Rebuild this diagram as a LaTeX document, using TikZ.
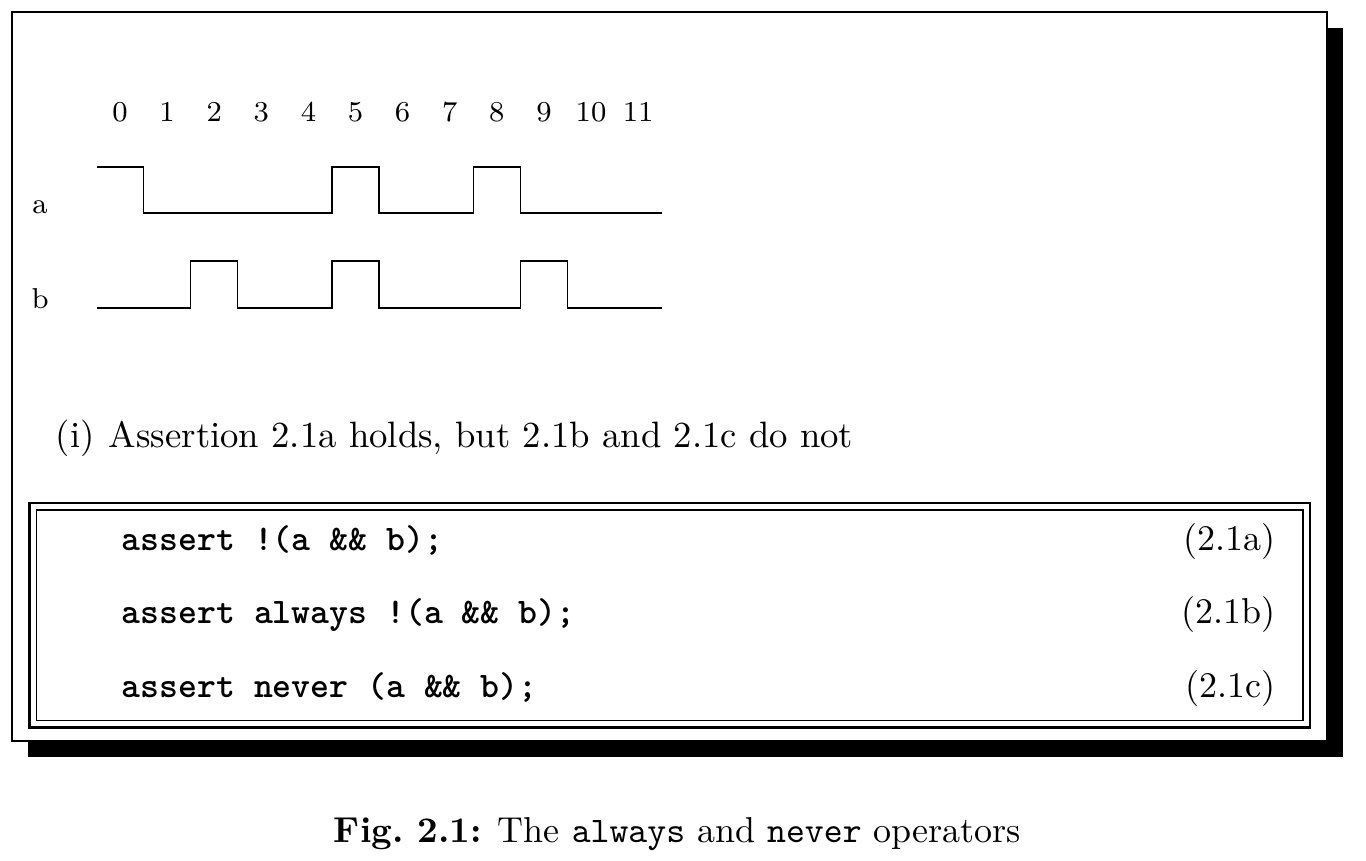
\documentclass[tikz,border=0pt]{standalone}
\begin{document}
\begin{tikzpicture}[x=0.2778pt,y=-0.2778pt,
    tick/.style={font=\footnotesize,anchor=base,inner sep=0pt},
    code/.style={font=\ttfamily\bfseries,anchor=base west,inner sep=0pt},
    eqno/.style={anchor=base east,inner sep=0pt},
    wave/.style={line width=0.3pt,line join=miter}]
  \useasboundingbox (0,0) rectangle (1366,860);
  % shadowed frame
  \fill[black] (28,28) rectangle (1343,757);
  \draw[fill=white,line width=0.4pt] (12,12) rectangle (1327,741);

  % time steps
  \node[tick] (t0)  at (120,121) {0};
  \node[tick] (t1)  at (167.1,121) {1};
  \node[tick] (t2)  at (214.2,121) {2};
  \node[tick] (t3)  at (261.3,121) {3};
  \node[tick] (t4)  at (308.4,121) {4};
  \node[tick] (t5)  at (355.5,121) {5};
  \node[tick] (t6)  at (402.6,121) {6};
  \node[tick] (t7)  at (449.7,121) {7};
  \node[tick] (t8)  at (496.8,121) {8};
  \node[tick] (t9)  at (543.9,121) {9};
  \node[tick] (t10) at (591,121) {10};
  \node[tick] (t11) at (638.1,121) {11};

  % signals
  \node[tick] (siga) at (40,213) {a};
  \node[tick] (sigb) at (40,308) {b};
  \draw[wave] (96.5,167) -- (143.6,167) -- (143.6,213) -- (332,213) -- (332,167)
    -- (379,167) -- (379,213) -- (473.3,213) -- (473.3,167) -- (520.4,167)
    -- (520.4,213) -- (661.7,213);
  \draw[wave] (96.5,308) -- (190.7,308) -- (190.7,261) -- (237.8,261) -- (237.8,308)
    -- (332,308) -- (332,261) -- (379,261) -- (379,308) -- (520.4,308)
    -- (520.4,261) -- (567.5,261) -- (567.5,308) -- (661.7,308);

  \node[anchor=base west,inner sep=0pt,font=\fontsize{10.2pt}{12pt}\selectfont] (sub) at (55,447)
    {(i)\hspace{4pt}Assertion 2.1a holds, but 2.1b and 2.1c do not};

  % assertions
  \draw[line width=0.6pt] (29.5,503) rectangle (1310,727.5);
  \draw[line width=0.3pt] (36.5,510) rectangle (1303,720.5);
  \node[code] (asa) at (121,550) {assert !(a \&\& b);};
  \node[code] (asb) at (121,623.5) {assert always !(a \&\& b);};
  \node[code] (asc) at (121,697) {assert never (a \&\& b);};
  \node[eqno] (eqa) at (1276,550) {(2.1a)};
  \node[eqno] (eqb) at (1276,623.5) {(2.1b)};
  \node[eqno] (eqc) at (1276,697) {(2.1c)};

  \node[anchor=base,inner sep=0pt] (cap) at (677.5,842)
    {\textbf{Fig.\ 2.1:} The \texttt{always} and \texttt{never} operators};
\end{tikzpicture}
\end{document}
